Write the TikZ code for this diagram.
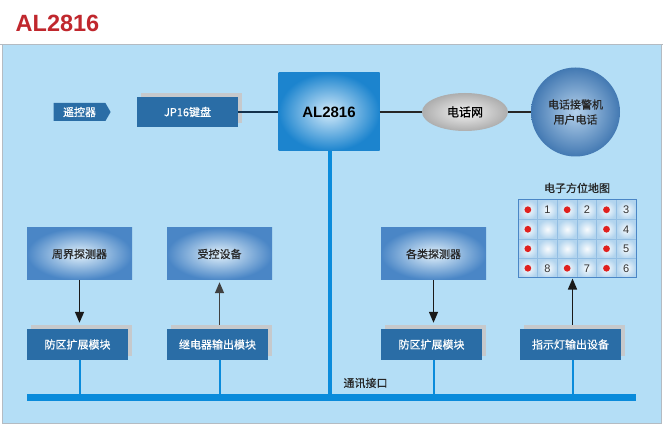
\documentclass[tikz,border=0pt]{standalone}
\usepackage{fontspec}
\setmainfont{Liberation Sans}
\newfontfamily\cjk{Noto Sans CJK SC}[FakeBold=0.6]
\usetikzlibrary{shapes.geometric,shapes.symbols,shadows,arrows.meta}

\definecolor{panelblue}{HTML}{B4DEF6}
\definecolor{modblue}{HTML}{2A6DA6}
\definecolor{shadowgray}{HTML}{C6C9CC}
\definecolor{busblue}{HTML}{0A8BDB}
\definecolor{titlered}{HTML}{C0272D}
\definecolor{framegray}{HTML}{B4BBC2}
\definecolor{devouter}{HTML}{4A86C6}
\definecolor{devinner}{HTML}{E2F1FB}
\definecolor{mainouter}{HTML}{1C84CE}
\definecolor{maininner}{HTML}{D2EAFA}
\definecolor{cellouter}{HTML}{B2D4EE}
\definecolor{gridline}{HTML}{93BEE3}
\definecolor{dotred}{HTML}{E0201E}

\begin{document}
\begin{tikzpicture}[x=1pt,y=-1pt,>={Triangle[length=11pt,width=9pt]},
  module/.style={rectangle,fill=modblue,text=white,inner sep=0pt,
    minimum width=101pt,minimum height=31pt,font=\cjk\fontsize{11}{13}\selectfont,
    drop shadow={shadow xshift=4pt,shadow yshift=4pt,opacity=1,fill=shadowgray}},
  device/.style={rectangle,inner color=devinner,outer color=devouter,inner sep=0pt,
    minimum width=105pt,minimum height=52pt,text=black!85,font=\cjk\fontsize{11}{13}\selectfont},
  link/.style={busblue,line width=2pt},
  flow/.style={->,line width=1.4pt,black!90}]

  \useasboundingbox (0,0) rectangle (663,435);

  % frame
  \fill[white] (0,0) rectangle (663,435);
  \draw[framegray,line width=1.5pt] (0,44.5) -- (663,44.5);
  \draw[framegray,fill=panelblue,line width=1pt] (2,45) rectangle (661,423);
  \node[anchor=west,inner sep=0pt,text=titlered,font=\bfseries\fontsize{23.5}{25}\selectfont] (title) at (15.5,23.5) {AL2816};

  % top row
  \node[signal,signal to=east,signal pointer angle=120,fill=modblue,text=white,inner sep=1pt,
    minimum width=57pt,minimum height=18pt,font=\cjk\fontsize{11}{13}\selectfont] (remote) at (79.5,112) {遥控器};
  \node[module,minimum height=30pt] (keypad) at (187.5,112) {JP16键盘};
  \node[rectangle,inner color=maininner,outer color=mainouter,minimum width=101pt,minimum height=78pt,
    font=\bfseries\fontsize{15}{17}\selectfont] (main) at (329,112) {AL2816};
  \node[ellipse,inner color=white!95!black,outer color=black!32,minimum width=86pt,minimum height=38pt,
    inner sep=0pt,font=\cjk\fontsize{12}{14}\selectfont] (net) at (465,112) {电话网};
  \node[circle,inner color=devinner!70!devouter,outer color=devouter!90!black,minimum size=89pt,inner sep=0pt,
    align=center,text=black!85,font=\cjk\fontsize{11}{15}\selectfont] (alarm) at (575.5,112) {电话接警机\\用户电话};

  \draw[black!55!modblue,line width=1.2pt] (keypad.east) -- (main.west);
  \draw[black!85,line width=1.1pt] (main.east) -- (net.west);
  \draw[black!85,line width=1.1pt] (net.east) -- (alarm.west);

  % map
  \node[text=black!85,font=\cjk\fontsize{11}{13}\selectfont] (maptitle) at (577,188) {电子方位地图};
  \pgfmathsetmacro\cw{118/6}
  \pgfmathsetmacro\ch{78/4}
  \foreach \c in {0,...,5}
    \foreach \r in {0,...,3}
      {\path[inner color=white!92!cellouter,outer color=cellouter] (518+\c*\cw,200+\r*\ch) rectangle ++(\cw,\ch);}
  \foreach \c in {1,...,5}
    {\draw[gridline,line width=0.5pt] (518+\c*\cw,200) -- ++(0,78);}
  \foreach \r in {1,...,3}
    {\draw[gridline,line width=0.5pt] (518,200+\r*\ch) -- ++(118,0);}
  \node[draw=devouter,line width=1pt,minimum width=118pt,minimum height=78pt,inner sep=0pt] (map) at (577,239) {};
  \foreach \c/\r in {0/0,2/0,4/0,0/1,4/1,0/2,4/2,0/3,2/3,4/3}
    {\fill[dotred] (518+\c*\cw+\cw/2,200+\r*\ch+\ch/2) circle (3.4pt);}
  \foreach \n/\c/\r in {1/1/0,2/3/0,3/5/0,4/5/1,5/5/2,6/5/3,7/3/3,8/1/3}
    {\node[text=black!80,font=\fontsize{11}{13}\selectfont] at (518+\c*\cw+\cw/2,200+\r*\ch+\ch/2) {\n};}

  % devices and modules
  \node[device] (perim) at (79.5,254) {周界探测器};
  \node[device] (ctrl) at (219.5,254) {受控设备};
  \node[device] (sensor) at (433.5,254) {各类探测器};

  \node[module] (zoneL) at (77.5,344.5) {防区扩展模块};
  \node[module] (relay) at (217.5,344.5) {继电器输出模块};
  \node[module] (zoneR) at (431.5,344.5) {防区扩展模块};
  \node[module] (lamp) at (570.5,344.5) {指示灯输出设备};

  \draw[flow,shorten >=6pt] (perim.south) -- (perim.south |- zoneL.north);
  \draw[flow,black!75,shorten <=4pt,shorten >=2pt] (ctrl.south |- relay.north) -- (ctrl.south);
  \draw[flow,shorten >=6pt] (sensor.south) -- (sensor.south |- zoneR.north);
  \draw[flow,shorten <=4pt] ([xshift=2pt]lamp.north) -- ([xshift=2pt]lamp.north |- map.south);

  % bus
  \coordinate (busL) at (27,397);
  \coordinate (busR) at (636,397);
  \draw[busblue,line width=7pt] (busL) -- (busR);
  \draw[busblue,line width=4pt] (main.south -| 330,0) -- (330,397);
  \draw[link] (perim.south |- zoneL.south) -- (perim.south |- busL);
  \draw[link] (ctrl.south |- relay.south) -- (ctrl.south |- busL);
  \draw[link] (sensor.south |- zoneR.south) -- (sensor.south |- busL);
  \draw[link] ([xshift=2pt]lamp.south) -- ([xshift=2pt]lamp.south |- busL);
  \node[anchor=west,text=black!85,font=\cjk\fontsize{11}{13}\selectfont] (port) at (340,383) {通讯接口};

\end{tikzpicture}
\end{document}
